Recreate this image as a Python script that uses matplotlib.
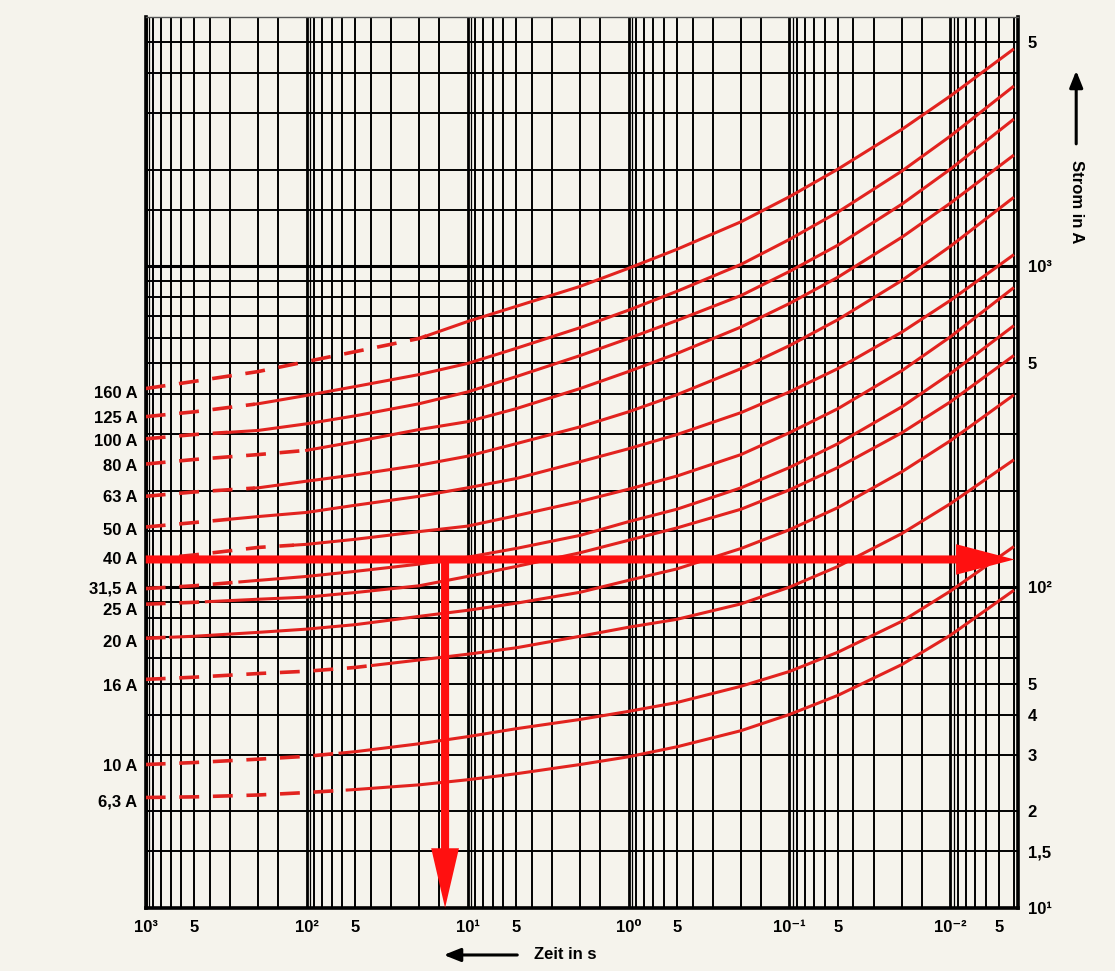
"""
Fuse time-current chart: Zeit in s (reversed, log) vs. Strom in A (log),
red characteristic per rated current, dashed in the long-time range.
"""
import numpy as np
import matplotlib
matplotlib.use('Agg')
import matplotlib.pyplot as plt

plt.rcParams['font.family'] = ['Liberation Sans', 'DejaVu Sans']
plt.rcParams['font.weight'] = 'bold'

# time grid (s) at which the curves were read, left -> right on the chart
t_read = [1000, 500, 200, 100, 50, 20, 10, 5, 2, 1, 0.5, 0.2, 0.1, 0.05, 0.02, 0.01, 0.0041]

ratings = ['160 A', '125 A', '100 A', '80 A', '63 A', '50 A', '40 A',
           '31,5 A', '25 A', '20 A', '16 A', '10 A', '6,3 A']

i_160 = [416, 438, 470, 505, 542, 596, 673, 750, 866, 986, 1130, 1377, 1648, 2009, 2673, 3396, 4732]
i_125 = [340, 352, 373, 396, 422, 460, 498, 555, 644, 730, 836, 1014, 1213, 1476, 1982, 2547, 3622]
i_100 = [290, 299, 308, 323, 342, 373, 406, 453, 527, 596, 678, 811, 964, 1164, 1563, 2009, 2858]
i_80 = [242, 250, 259, 267, 284, 310, 328, 360, 416, 470, 535, 647, 766, 925, 1233, 1574, 2208]
i_63 = [192, 198, 204, 214, 224, 240, 256, 280, 316, 352, 398, 480, 566, 682, 904, 1155, 1631]
i_50 = [154, 159, 166, 171, 180, 192, 204, 218, 246, 270, 299, 350, 406, 480, 624, 783, 1081]
i_40 = [122, 126, 133, 136, 141, 149, 155, 167, 185, 202, 222, 259, 303, 360, 473, 603, 853]
i_31_5 = [99, 101, 105, 108, 112, 118, 124, 132, 145, 160, 175, 204, 236, 280, 365, 463, 649]
i_25 = [88.5, 89.7, 91.7, 93.1, 96.2, 101, 108, 116, 128, 140, 153, 175, 201, 236, 303, 378, 524]
i_20 = [69.3, 70.3, 72.3, 74, 76.4, 81.1, 84.7, 89.1, 96.4, 105, 114, 132, 151, 177, 229, 286, 395]
i_16 = [51.6, 52.4, 53.8, 54.7, 56.2, 59.3, 61.8, 64.7, 70.3, 75, 79.4, 88.7, 100, 116, 147, 182, 248]
i_10 = [28, 28.4, 29.1, 29.7, 30.7, 32.5, 34.2, 36.2, 38.7, 41, 43.7, 49.1, 54.6, 62.7, 78.3, 97.2, 133]
i_6_3 = [22.1, 22.2, 22.5, 22.9, 23.4, 24.2, 25.1, 26.2, 28, 29.6, 31.8, 35.7, 40.1, 46, 57.4, 70.8, 97.2]

curves = [i_160, i_125, i_100, i_80, i_63, i_50, i_40, i_31_5, i_25, i_20, i_16, i_10, i_6_3]
# time (s) above which each curve is drawn dashed
dash_until = [18, 210, 310, 100, 210, 300, 120, 260, 420, 700, 39, 62, 56]

# reading example: 122 A -> about 14 s
arrow_amp = 122
arrow_time = 13.8

x_ticks = [1000, 500, 100, 50, 10, 5, 1, 0.5, 0.1, 0.05, 0.01, 0.005]
x_labels = ['10³', '5', '10²', '5', '10¹', '5', '10⁰', '5', '10⁻¹', '5', '10⁻²', '5']
y_ticks = [5000, 1000, 500, 100, 50, 40, 30, 20, 15, 10]
y_labels = ['5', '10³', '5', '10²', '5', '4', '3', '2', '1,5', '10¹']

X_LIM = (1000, 0.0038)
Y_LIM = (10, 6000)
BG = '#f5f3ec'
RED = '#e2231f'
ARROW_RED = '#ff1010'
# rating label shift below the curve start, in points
LABEL_DY = [-3.5, -1, -2, -2, -1, -2.5, 0, 0, -4.5, -2.7, -4.8, -1.2, -3.6]


def grid_values(lo, hi):
    vals = []
    for k in range(int(np.floor(np.log10(lo))), int(np.ceil(np.log10(hi))) + 1):
        for m in (1, 1.5, 2, 3, 4, 5, 6, 7, 8, 9):
            v = m * 10.0 ** k
            if lo * 0.999 <= v <= hi * 1.001:
                vals.append(v)
    return vals


def split(times, amps, t_split):
    times = np.asarray(times, float)
    amps = np.asarray(amps, float)
    a_split = 10 ** np.interp(np.log10(t_split), np.log10(times)[::-1], np.log10(amps)[::-1])
    long_ = times > t_split
    dashed = (np.r_[times[long_], t_split], np.r_[amps[long_], a_split])
    solid = (np.r_[t_split, times[~long_]], np.r_[a_split, amps[~long_]])
    return dashed, solid


fig = plt.figure(figsize=(11.15, 9.71), dpi=100, facecolor=BG)
ax = fig.add_axes([0.1307, 0.0649, 0.7823, 0.9179], facecolor=BG)
ax.set_xscale('log')
ax.set_yscale('log')
ax.set_xlim(*X_LIM)
ax.set_ylim(*Y_LIM)

# paper grid
for v in grid_values(min(X_LIM), max(X_LIM)):
    decade = abs(np.log10(v) - round(np.log10(v))) < 1e-9
    ax.axvline(v, color='black', lw=2.0 if decade else 1.4, zorder=1)
    if decade:
        ax.axvline(v * 0.955, color='black', lw=0.9, zorder=1)
for v in grid_values(*Y_LIM):
    decade = abs(np.log10(v) - round(np.log10(v))) < 1e-9
    ax.axhline(v, color='black', lw=2.2 if decade else 1.4, zorder=1)

# characteristics
for label, amps, ts, dy in zip(ratings, curves, dash_until, LABEL_DY):
    (dx, dy_), (sx, sy) = split(t_read, amps, ts)
    ax.plot(dx, dy_, color=RED, lw=2.6, dashes=(5.5, 3.8), solid_capstyle='butt', zorder=3)
    ax.plot(sx, sy, color=RED, lw=2.2, zorder=3)
    ax.annotate(label, xy=(X_LIM[0], amps[0]), xytext=(-6, dy), textcoords='offset points',
                ha='right', va='center', fontsize=12, fontweight='bold', annotation_clip=False)

# reading arrows
arrow_kw = dict(arrowstyle='simple,head_length=42,head_width=22,tail_width=5.8',
                mutation_scale=1, fc=ARROW_RED, ec='none', shrinkA=0, shrinkB=0)
ax.annotate('', xy=(0.004, arrow_amp), xytext=(X_LIM[0], arrow_amp),
            arrowprops=arrow_kw, zorder=5, annotation_clip=False)
ax.annotate('', xy=(arrow_time, Y_LIM[0]), xytext=(arrow_time, arrow_amp * 1.004),
            arrowprops=dict(arrow_kw, arrowstyle='simple,head_length=43,head_width=20,tail_width=5.8'),
            zorder=5, annotation_clip=False)

# ticks and labels
ax.set_xticks(x_ticks, labels=x_labels, minor=False)
ax.set_xticks([], minor=True)
ax.set_yticks(y_ticks, labels=y_labels, minor=False)
ax.set_yticks([], minor=True)
ax.yaxis.tick_right()
ax.tick_params(axis='x', length=0, pad=9, labelsize=12)
ax.tick_params(axis='y', length=0, pad=7, labelsize=12)
for lab in ax.get_xticklabels() + ax.get_yticklabels():
    lab.set_fontweight('bold')

for side in ('left', 'bottom', 'right'):
    ax.spines[side].set_linewidth(2.6)
    ax.spines[side].set_color('black')
ax.spines['top'].set_linewidth(1.0)
ax.spines['top'].set_color('#555555')

# axis titles with direction arrows
fig.text(0.5067, 0.0165, 'Zeit in s', ha='center', va='center', fontsize=12, fontweight='bold')
fig.patches.append(matplotlib.patches.FancyArrowPatch(
    (0.4664, 0.0165), (0.3955, 0.0165), transform=fig.transFigure,
    arrowstyle='-|>,head_length=10,head_width=4', mutation_scale=1, lw=2.2, color='black'))
fig.text(0.9655, 0.792, 'Strom in A', ha='center', va='center', rotation=-90,
         fontsize=12, fontweight='bold')
fig.patches.append(matplotlib.patches.FancyArrowPatch(
    (0.9652, 0.849), (0.9652, 0.930), transform=fig.transFigure,
    arrowstyle='-|>,head_length=10,head_width=4', mutation_scale=1, lw=2.2, color='black'))

fig.savefig('out.png', dpi=100, facecolor=BG)
